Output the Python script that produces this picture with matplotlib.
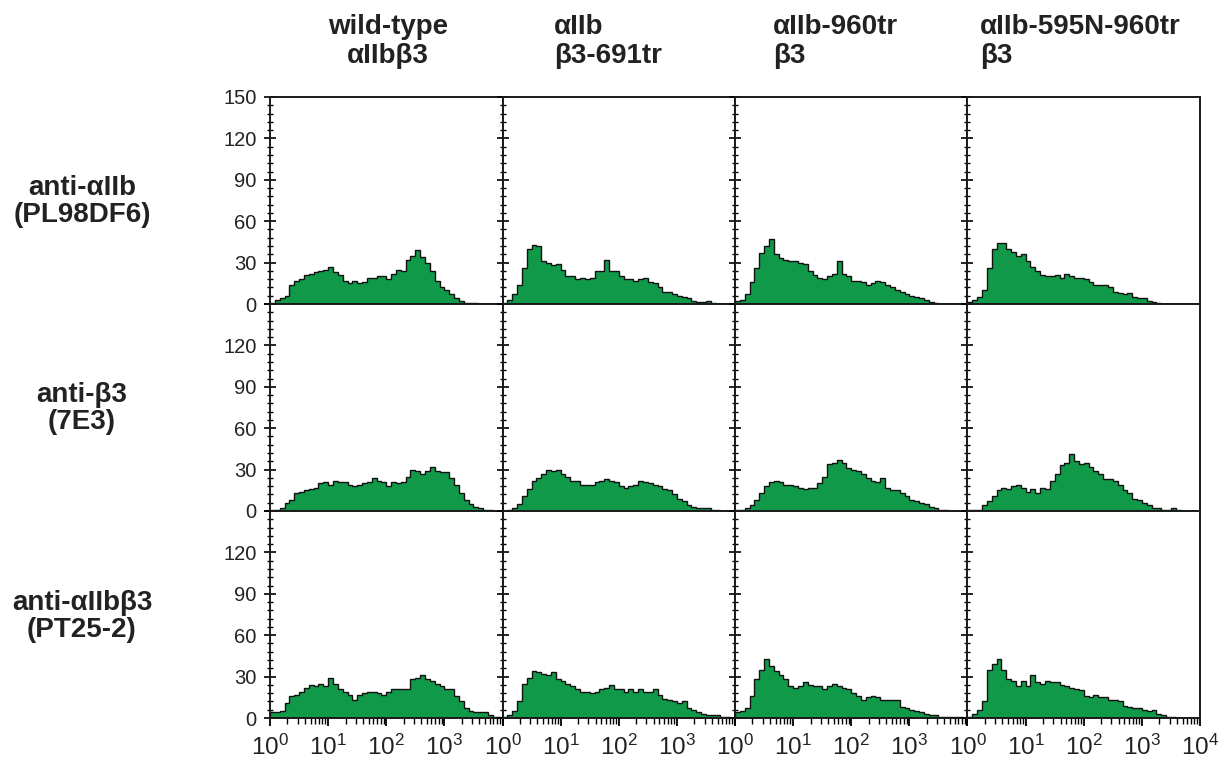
import numpy as np
import matplotlib
matplotlib.use("Agg")
import matplotlib.pyplot as plt
from matplotlib.ticker import MultipleLocator, FixedLocator

plt.rcParams['font.family'] = ['Liberation Sans', 'DejaVu Sans']
plt.rcParams['mathtext.fontset'] = 'custom'
plt.rcParams['mathtext.rm'] = 'Liberation Sans'
plt.rcParams['mathtext.it'] = 'Liberation Sans:italic'

col_titles = [("wild-type", "αIIbβ3"), ("αIIb", "β3-691tr"),
              ("αIIb-960tr", "β3"), ("αIIb-595N-960tr", "β3")]
row_titles = [("anti-αIIb", "(PL98DF6)"), ("anti-β3", "(7E3)"),
              ("anti-αIIbβ3", "(PT25-2)")]

# cell counts per channel, 12 channels per decade from 10^0 to 10^4
# row 1: anti-aIIb (PL98DF6)
r1_wt = [1, 3, 4, 6, 14, 17, 18, 21, 22, 23, 24, 25, 27, 23, 21, 17, 15, 17, 15, 16,
         19, 19, 20, 20, 18, 22, 25, 24, 32, 35, 39, 34, 30, 24, 17, 12, 10, 7, 4, 2,
         1, 1, 0.5, 0, 0, 0, 0, 0]
r1_b691 = [1, 3, 7, 14, 26, 40, 43, 42, 31, 30, 28, 29, 25, 20, 20, 18, 19, 18, 19, 24,
           24, 32, 24, 24, 20, 18, 18, 17, 18, 19, 16, 15, 12, 9, 9, 7, 6, 5, 4, 2,
           1.5, 1.5, 2, 0.5, 0, 0, 0, 0]
r1_a960 = [2, 3, 7, 16, 26, 37, 42, 47, 36, 33, 32, 31, 31, 30, 29, 24, 21, 19, 18, 20,
           22, 31, 22, 20, 17, 17, 16, 14, 15, 17, 16, 14, 12, 10, 9, 7, 6, 5, 4, 3,
           1.5, 0.5, 0, 0, 0, 0, 0, 0]
r1_a595 = [1.5, 3, 5, 10, 26, 40, 44, 44, 40, 38, 35, 36, 31, 27, 24, 21, 20, 20, 21, 19,
           22, 20, 19, 19, 18, 16, 14, 14, 14, 12, 9, 8, 7, 8, 5, 4, 4, 2, 1.5, 0.7,
           0, 0, 0, 0, 0, 0, 0, 0]
# row 2: anti-b3 (7E3)
r2_wt = [0.5, 1, 2, 6, 8, 13, 14, 15, 16, 17, 20, 21, 19, 22, 21, 21, 19, 18, 19, 20,
         21, 24, 22, 21, 18, 21, 20, 21, 25, 30, 29, 27, 29, 32, 29, 28, 28, 24, 19, 13,
         8, 5, 3, 2, 1, 0.5, 0, 0]
r2_b691 = [0, 0.5, 2, 5, 11, 16, 22, 24, 27, 30, 29, 30, 27, 25, 22, 22, 19, 19, 19, 21,
           22, 23, 22, 21, 18, 17, 18, 19, 22, 21, 20, 19, 18, 16, 15, 12, 9, 7, 4, 3,
           2, 2, 2, 1, 0.5, 0, 0, 0]
r2_a960 = [0.5, 1, 2, 4, 8, 13, 18, 21, 22, 21, 19, 19, 18, 17, 16, 17, 17, 20, 25, 34,
           35, 37, 35, 31, 30, 29, 27, 24, 22, 21, 24, 17, 15, 15, 13, 11, 8, 7, 6, 5,
           3, 2, 1, 1, 0, 0, 0, 0]
r2_a595 = [0.5, 1, 1, 4, 7, 11, 15, 17, 16, 18, 19, 17, 14, 16, 13, 17, 16, 22, 27, 33,
           35, 41, 36, 34, 35, 32, 29, 27, 23, 23, 22, 19, 15, 13, 9, 8, 6, 4, 2, 2,
           1, 1, 2, 0.5, 0, 0, 0, 0]
# row 3: anti-aIIbb3 (PT25-2)
r3_wt = [4, 4, 5, 11, 16, 17, 19, 22, 24, 23, 25, 23, 29, 25, 21, 19, 17, 13, 17, 18,
         19, 19, 18, 17, 19, 21, 21, 21, 21, 28, 29, 31, 28, 27, 25, 23, 21, 21, 16, 12,
         7, 5, 4, 4, 4, 2, 1, 0.5]
r3_b691 = [0.5, 2, 5, 12, 25, 29, 34, 33, 32, 31, 33, 28, 27, 25, 23, 21, 19, 19, 18, 19,
           21, 22, 24, 21, 21, 19, 21, 19, 21, 19, 19, 21, 17, 14, 13, 12, 11, 12, 7, 6,
           4, 3, 2, 2, 2, 1, 0.5, 0]
r3_a960 = [4, 5, 7, 16, 28, 35, 43, 38, 34, 31, 28, 23, 22, 23, 26, 24, 23, 23, 21, 23,
           25, 23, 22, 21, 18, 16, 13, 15, 16, 15, 13, 13, 13, 13, 8, 7, 6, 5, 4, 3,
           2, 2, 1, 1, 0.5, 0.5, 0.5, 0]
r3_a595 = [0.5, 3, 6, 12, 35, 39, 43, 35, 28, 27, 23, 27, 23, 31, 26, 25, 27, 26, 26, 24,
           23, 22, 21, 20, 16, 15, 17, 15, 15, 13, 13, 12, 9, 8, 7, 7, 6, 5, 6, 3,
           2, 1, 0.5, 0, 0, 0, 0, 0]

hists = [[r1_wt, r1_b691, r1_a960, r1_a595],
         [r2_wt, r2_b691, r2_a960, r2_a595],
         [r3_wt, r3_b691, r3_a960, r3_a595]]

edges = np.logspace(0, 4, 49)
GREEN = '#11994a'
W, H = 1232, 762

fig, axes = plt.subplots(3, 4, figsize=(W / 100, H / 100), dpi=100)
fig.subplots_adjust(left=270 / W, right=1200 / W, top=1 - 97 / H, bottom=1 - 718 / H,
                    wspace=0, hspace=0)

for r in range(3):
    for c in range(4):
        ax = axes[r, c]
        vals = np.array(hists[r][c], dtype=float)
        ax.stairs(vals, edges, fill=True, color=GREEN, lw=0)
        ax.stairs(vals, edges, color='#111111', lw=1.0)
        ax.set_xscale('log')
        ax.set_xlim(1, 1e4)
        ax.set_ylim(0, 150)
        for sp in ax.spines.values():
            sp.set_linewidth(1.4)
            sp.set_color('#1a1a1a')

        ax.yaxis.set_major_locator(MultipleLocator(30))
        ax.yaxis.set_minor_locator(MultipleLocator(6))
        ax.tick_params(axis='y', which='major', direction='inout', length=9, width=1.2,
                       labelsize=14.5, pad=5, right=False)
        ax.tick_params(axis='y', which='minor', direction='inout', length=5, width=1.0,
                       right=False)
        if c == 0:
            yt = [0, 30, 60, 90, 120, 150]
            ax.set_yticks(yt)
            ax.set_yticklabels([str(v) if (r == 0 or v < 150) else '' for v in yt],
                               color='#222222')
        else:
            ax.tick_params(axis='y', which='both', labelleft=False)

        if r == 2:
            xt = [1, 10, 100, 1000, 10000]
            ax.xaxis.set_major_locator(FixedLocator(xt))
            minors = [m * 10 ** d for d in range(4) for m in range(2, 10)]
            ax.xaxis.set_minor_locator(FixedLocator(minors))
            labs = [r'$\mathregular{10^{%d}}$' % i for i in range(5)]
            if c < 3:
                labs[-1] = ''
            ax.set_xticklabels(labs, color='#222222')
            ax.tick_params(axis='x', which='major', direction='out', length=6, width=1.3,
                           labelsize=17.5, pad=6, top=False)
            ax.tick_params(axis='x', which='minor', direction='out', length=4, width=1.0,
                           top=False, labelbottom=False)
        else:
            ax.tick_params(axis='x', which='both', bottom=False, top=False,
                           labelbottom=False)

# column headers
hdr_x = [388, 554, 773, 980]
for c, (l1, l2) in enumerate(col_titles):
    ha = 'center' if c == 0 else 'left'
    fig.text(hdr_x[c] / W, 1 - 34 / H, l1, ha=ha, va='baseline', fontsize=20,
             fontweight='bold', color='#222222')
    fig.text(hdr_x[c] / W, 1 - 63 / H, l2, ha=ha, va='baseline', fontsize=20,
             fontweight='bold', color='#222222')

# row labels
row_mid = [200, 407, 615]
for r, (l1, l2) in enumerate(row_titles):
    fig.text(82 / W, 1 - (row_mid[r] - 5) / H, l1, ha='center', va='baseline',
             fontsize=20, fontweight='bold', color='#222222')
    fig.text(82 / W, 1 - (row_mid[r] + 22) / H, l2, ha='center', va='baseline',
             fontsize=20, fontweight='bold', color='#222222')

fig.savefig('out.png', dpi=100, facecolor='white')
